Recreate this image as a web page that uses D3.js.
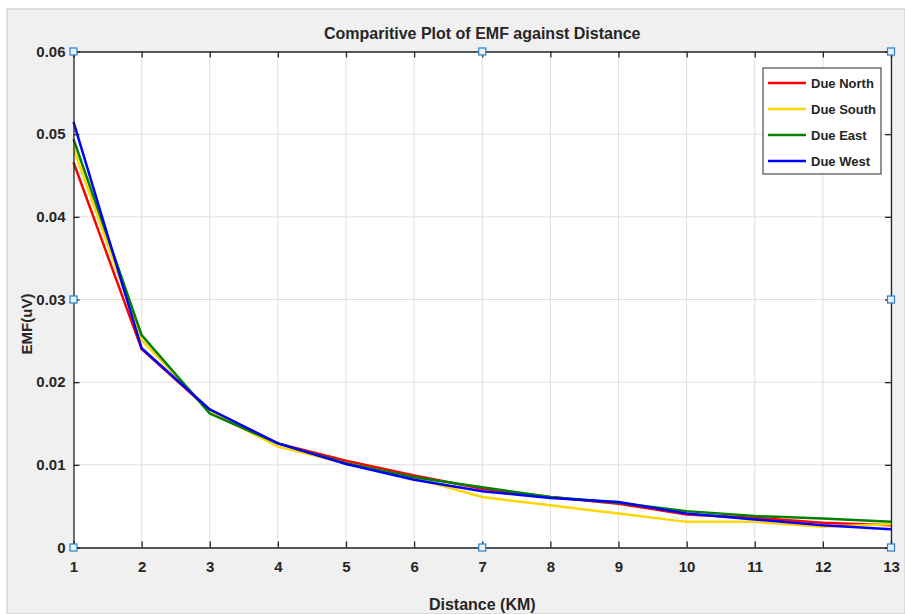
<!DOCTYPE html>
<html>
<head>
<meta charset="utf-8">
<script src="https://cdn.jsdelivr.net/npm/d3@7"></script>
<style>
  body { margin: 0; background: #fff; }
  text { font-family: "Liberation Sans", Arial, sans-serif; font-weight: bold; fill: #262626; }
</style>
</head>
<body>
<script>
// chart values
var distance = [1, 2, 3, 4, 5, 6, 7, 8, 9, 10, 11, 12, 13];
var dueNorth = [0.0466, 0.0240, 0.0166, 0.0126, 0.0105, 0.0087, 0.0071, 0.0061, 0.0053, 0.0040, 0.0036, 0.0030, 0.0027];
var dueSouth = [0.0483, 0.0251, 0.0165, 0.0122, 0.0102, 0.0084, 0.0061, 0.0051, 0.0041, 0.0031, 0.0031, 0.0025, 0.0028];
var dueEast  = [0.0494, 0.0257, 0.0162, 0.0126, 0.0102, 0.0085, 0.0073, 0.0061, 0.0054, 0.0044, 0.0038, 0.0035, 0.0031];
var dueWest  = [0.0515, 0.0241, 0.0167, 0.0126, 0.0101, 0.0082, 0.0068, 0.0060, 0.0055, 0.0041, 0.0034, 0.0027, 0.0022];
var seriesNames = ["Due North", "Due South", "Due East", "Due West"];
var seriesColors = ["#ff0000", "#ffd700", "#008000", "#0000ff"];
var yTicks = [0, 0.01, 0.02, 0.03, 0.04, 0.05, 0.06];
var yTickLabels = ["0", "0.01", "0.02", "0.03", "0.04", "0.05", "0.06"];

var w = 905, h = 614;
var padLeft = 73.5, padRight = 891, padTop = 51.5, padBottom = 547.5;

var svg = d3.select("body").append("svg")
  .attr("width", w)
  .attr("height", h);

// figure background
svg.append("rect").attr("x", 7).attr("y", 9).attr("width", w - 7).attr("height", h - 9)
  .attr("fill", "#f0f0f0").attr("stroke", "#c8c8c8");

var x = d3.scaleLinear().domain([1, 13]).range([padLeft, padRight]);
var y = d3.scaleLinear().domain([0, 0.06]).range([padBottom, padTop]);

svg.append("rect").attr("x", padLeft).attr("y", padTop)
  .attr("width", padRight - padLeft).attr("height", padBottom - padTop)
  .attr("fill", "#fff");

// grid
svg.append("g").selectAll("line").data(distance).enter().append("line")
  .attr("x1", d => x(d)).attr("x2", d => x(d))
  .attr("y1", padTop).attr("y2", padBottom)
  .attr("stroke", "#dfdfdf").attr("stroke-width", 1);
svg.append("g").selectAll("line").data(yTicks).enter().append("line")
  .attr("x1", padLeft).attr("x2", padRight)
  .attr("y1", d => y(d)).attr("y2", d => y(d))
  .attr("stroke", "#dfdfdf").attr("stroke-width", 1);

// series
var allSeries = [dueNorth, dueSouth, dueEast, dueWest];
var line = d3.line()
  .x(function(d, i) { return x(distance[i]); })
  .y(function(d) { return y(d); });

allSeries.forEach(function(vals, k) {
  svg.append("path").datum(vals)
    .attr("d", line)
    .attr("fill", "none")
    .attr("stroke", seriesColors[k])
    .attr("stroke-width", 2.5);
});

// axes (ticks inward, box on)
var xBottom = d3.axisBottom(x).tickValues(distance).tickSize(-6).tickPadding(14).tickFormat(d3.format("d"));
var xTop = d3.axisTop(x).tickValues(distance).tickSize(-6).tickFormat("");
var yLeft = d3.axisLeft(y).tickValues(yTicks).tickSize(-6).tickPadding(8)
  .tickFormat(function(d, i) { return yTickLabels[i]; });
var yRight = d3.axisRight(y).tickValues(yTicks).tickSize(-6).tickFormat("");

function styleAxis(g) {
  g.select(".domain").attr("stroke", "#262626").attr("stroke-width", 1.3);
  g.selectAll(".tick line").attr("stroke", "#262626").attr("stroke-width", 1.3);
  g.selectAll(".tick text").attr("fill", "#262626")
    .style("font-size", "15px").style("font-weight", "bold")
    .style("font-family", "'Liberation Sans', Arial, sans-serif");
}

svg.append("g").attr("transform", "translate(0," + padBottom + ")").call(xBottom).call(styleAxis);
svg.append("g").attr("transform", "translate(0," + padTop + ")").call(xTop).call(styleAxis);
svg.append("g").attr("transform", "translate(" + padLeft + ",0)").call(yLeft).call(styleAxis);
svg.append("g").attr("transform", "translate(" + padRight + ",0)").call(yRight).call(styleAxis);

// titles
svg.append("text").attr("x", (padLeft + padRight) / 2).attr("y", 39)
  .attr("text-anchor", "middle").style("font-size", "16px")
  .text("Comparitive Plot of EMF against Distance");
svg.append("text").attr("x", (padLeft + padRight) / 2).attr("y", 610)
  .attr("text-anchor", "middle").style("font-size", "16px")
  .text("Distance (KM)");
svg.append("text")
  .attr("transform", "translate(32,324) rotate(-90)")
  .attr("text-anchor", "middle").style("font-size", "15px")
  .text("EMF(uV)");

// legend
var lg = svg.append("g");
lg.append("rect").attr("x", 763).attr("y", 68).attr("width", 118).attr("height", 106)
  .attr("fill", "#fff").attr("stroke", "#262626").attr("stroke-width", 1);
seriesNames.forEach(function(name, k) {
  var ly = 83 + k * 26;
  lg.append("line").attr("x1", 768).attr("x2", 806).attr("y1", ly).attr("y2", ly)
    .attr("stroke", seriesColors[k]).attr("stroke-width", 2.5);
  lg.append("text").attr("x", 811).attr("y", ly + 5).style("font-size", "13px").text(name);
});

// selection handles
var handles = [[padLeft, padTop], [(padLeft + padRight) / 2, padTop], [padRight, padTop],
  [padLeft, (padTop + padBottom) / 2], [padRight, (padTop + padBottom) / 2],
  [padLeft, padBottom], [(padLeft + padRight) / 2, padBottom], [padRight, padBottom]];
svg.append("g").selectAll("rect").data(handles).enter().append("rect")
  .attr("x", d => d[0] - 3.5).attr("y", d => d[1] - 3.5)
  .attr("width", 7).attr("height", 7)
  .attr("fill", "#e6f0fa").attr("stroke", "#2f7fc1").attr("stroke-width", 1.2);
</script>
</body>
</html>
